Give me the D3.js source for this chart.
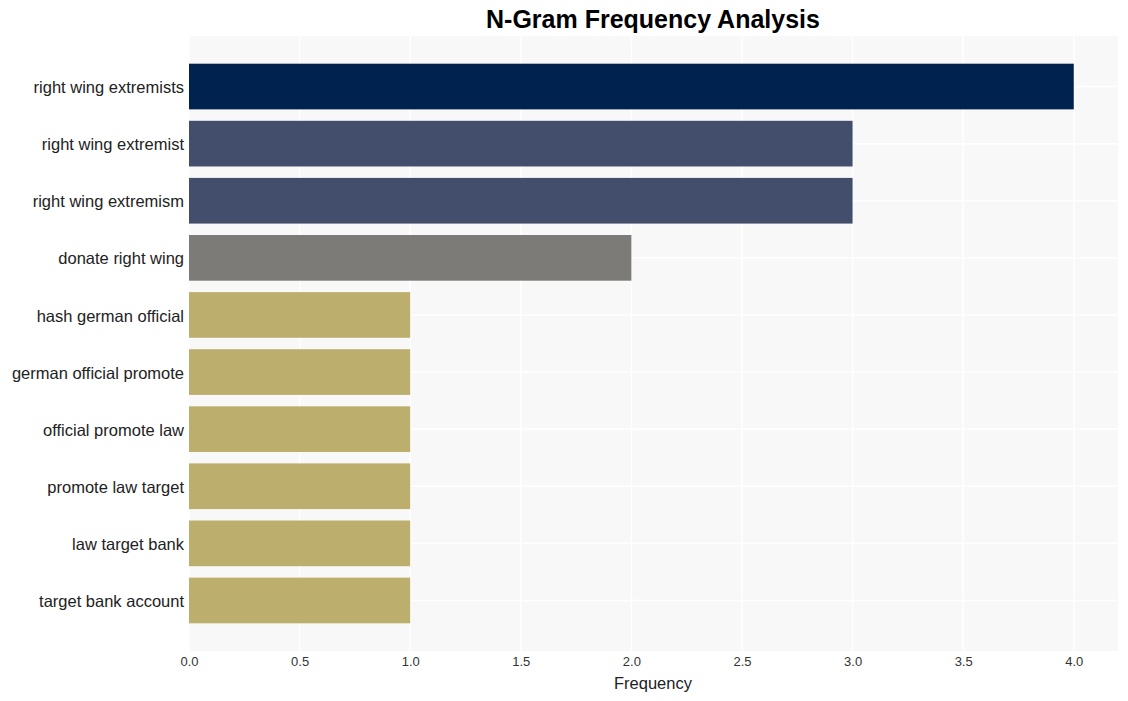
<!DOCTYPE html>
<html>
<head>
<meta charset="utf-8">
<script src="https://cdn.jsdelivr.net/npm/d3@7"></script>
<style>
  html, body { margin: 0; padding: 0; background: #fff; }
  svg { display: block; font-family: "Liberation Sans", Arial, sans-serif; }
</style>
</head>
<body>
<svg id="chart" width="1128" height="701"></svg>
<script>
const categories = [
  "right wing extremists",
  "right wing extremist",
  "right wing extremism",
  "donate right wing",
  "hash german official",
  "german official promote",
  "official promote law",
  "promote law target",
  "law target bank",
  "target bank account"
];
const values = [4, 3, 3, 2, 1, 1, 1, 1, 1, 1];
const barColors = ["#00224e", "#434e6c", "#434e6c", "#7c7b78", "#bcae6d", "#bcae6d", "#bcae6d", "#bcae6d", "#bcae6d", "#bcae6d"];
const xTicks = [0, 0.5, 1, 1.5, 2, 2.5, 3, 3.5, 4];

const svg = d3.select("#chart");
const mLeft = 189, mRight = 1118, mTop = 36, mBottom = 651;

const x = d3.scaleLinear().domain([0, 4.2]).range([mLeft, mRight]);
const y = d3.scaleBand().domain(categories).range([mTop, mBottom])
  .paddingInner(0.2).paddingOuter(0.485);

svg.append("rect").attr("x", mLeft).attr("y", mTop)
  .attr("width", mRight - mLeft).attr("height", mBottom - mTop)
  .attr("fill", "#f8f8f8");

// grid
svg.append("g").selectAll("line").data(xTicks).join("line")
  .attr("x1", d => x(d)).attr("x2", d => x(d))
  .attr("y1", mTop).attr("y2", mBottom)
  .attr("stroke", "#ffffff").attr("stroke-width", 1.5);
svg.append("g").selectAll("line").data(categories).join("line")
  .attr("x1", mLeft).attr("x2", mRight)
  .attr("y1", d => y(d) + y.bandwidth() / 2).attr("y2", d => y(d) + y.bandwidth() / 2)
  .attr("stroke", "#ffffff").attr("stroke-width", 1.5);

// bars
svg.append("g").selectAll("rect").data(categories).join("rect")
  .attr("x", x(0))
  .attr("y", d => y(d))
  .attr("width", (d, i) => x(values[i]) - x(0))
  .attr("height", y.bandwidth())
  .attr("fill", (d, i) => barColors[i]);

// x axis
const xAxis = svg.append("g").attr("transform", `translate(0,${mBottom})`)
  .call(d3.axisBottom(x).tickValues(xTicks).tickFormat(d3.format(".1f")).tickSize(0).tickPadding(6));
xAxis.select(".domain").remove();
xAxis.selectAll("text").attr("font-size", 13).attr("fill", "#333")
  .attr("font-family", "'Liberation Sans', Arial, sans-serif");

// y axis
const yAxis = svg.append("g").attr("transform", `translate(${mLeft},0)`)
  .call(d3.axisLeft(y).tickSize(0).tickPadding(5));
yAxis.select(".domain").remove();
yAxis.selectAll("text").attr("font-size", 16.5).attr("fill", "#222").attr("dy", "0.4em")
  .attr("font-family", "'Liberation Sans', Arial, sans-serif");

// labels
svg.append("text").attr("x", 653).attr("y", 689)
  .attr("text-anchor", "middle").attr("font-size", 16.5).attr("fill", "#222")
  .text("Frequency");
svg.append("text").attr("x", 653).attr("y", 28)
  .attr("text-anchor", "middle").attr("font-size", 25).attr("font-weight", "bold").attr("fill", "#000")
  .text("N-Gram Frequency Analysis");
</script>
</body>
</html>
